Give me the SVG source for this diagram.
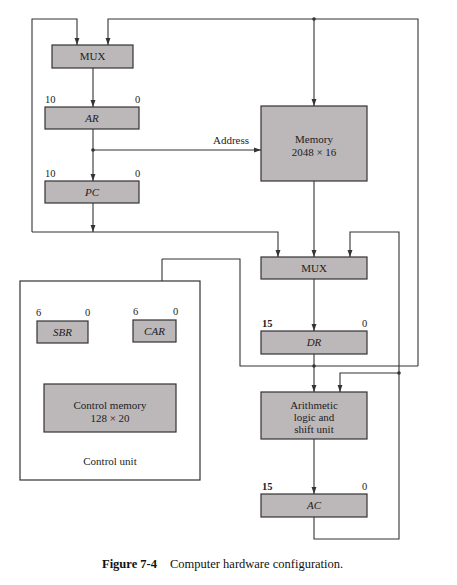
<svg xmlns="http://www.w3.org/2000/svg" width="457" height="585" viewBox="0 0 457 585">
<defs>
<marker id="ah" viewBox="0 0 10 10" refX="10" refY="5" markerWidth="7" markerHeight="7" markerUnits="userSpaceOnUse" orient="auto"><path d="M0,1.5 L10,5 L0,8.5 z" fill="#333"/></marker>
<style>
.box{fill:#bcb7b9;stroke:#333;stroke-width:1.2}
.cu{fill:#fff;stroke:#333;stroke-width:1.2}
.w{fill:none;stroke:#333;stroke-width:1.1}
.a{fill:none;stroke:#333;stroke-width:1.1;marker-end:url(#ah)}
.t{font-family:"Liberation Serif",serif;font-size:11px;fill:#222;text-anchor:middle}
.i{font-style:italic}
.n{font-family:"Liberation Serif",serif;font-size:10.5px;fill:#222}
.b{font-weight:bold}
.d{fill:#333}
.cap{font-family:"Liberation Serif",serif;font-size:12.5px;fill:#111}
</style>
</defs>
<rect width="457" height="585" fill="#fff"/>
<g id="connectors">
<polyline class="a" points="32,232 32,19 77,19 77,45"/>
<polyline class="a" points="418,366 418,19 108,19 108,45"/>
<line class="a" x1="314" y1="19" x2="314" y2="106"/>
<line class="a" x1="93" y1="68" x2="93" y2="107"/>
<line class="a" x1="93" y1="129" x2="93" y2="181"/>
<line class="a" x1="93" y1="150" x2="261" y2="150"/>
<line class="a" x1="93" y1="203" x2="93" y2="232"/>
<polyline class="a" points="32,232 278,232 278,257"/>
<line class="a" x1="314" y1="181" x2="314" y2="257"/>
<line class="a" x1="314" y1="279" x2="314" y2="331"/>
<line class="a" x1="314" y1="354" x2="314" y2="392"/>
<polyline class="w" points="418,366 240,366 240,259 162,259"/>
<polyline class="a" points="162,259 162,320"/>
<polyline class="a" points="314,517 314,539 399,539 399,232 350,232 350,257"/>
<polyline class="a" points="399,373 340,373 340,392"/>
<line class="a" x1="314" y1="439" x2="314" y2="494"/>
<circle class="d" cx="314" cy="19" r="1.8"/>
<circle class="d" cx="93" cy="150" r="1.8"/>
<circle class="d" cx="314" cy="366" r="1.8"/>
<circle class="d" cx="399" cy="373" r="1.8"/>
<text class="t" x="231" y="144">Address</text>
</g>
<g id="mux1"><rect class="box" x="52" y="45" width="81" height="23"/><text class="t" x="92.5" y="60">MUX</text></g>
<g id="ar"><rect class="box" x="45" y="107" width="94" height="22"/><text class="t i" x="92" y="122">AR</text><text class="n" x="45" y="103">10</text><text class="n" x="135" y="103">0</text></g>
<g id="pc"><rect class="box" x="45" y="181" width="94" height="22"/><text class="t i" x="92" y="196">PC</text><text class="n" x="45" y="177">10</text><text class="n" x="135" y="177">0</text></g>
<g id="memory"><rect class="box" x="261" y="106" width="106" height="75"/><text class="t" x="314" y="143">Memory</text><text class="t" x="314" y="156">2048 × 16</text></g>
<g id="mux2"><rect class="box" x="261" y="257" width="106" height="22"/><text class="t" x="314" y="272">MUX</text></g>
<g id="dr"><rect class="box" x="261" y="331" width="106" height="23"/><text class="t i" x="314" y="346">DR</text><text class="n b" x="262" y="327">15</text><text class="n" x="362" y="327">0</text></g>
<g id="alu"><rect class="box" x="261" y="392" width="106" height="47"/><text class="t" x="314" y="409">Arithmetic</text><text class="t" x="314" y="421">logic and</text><text class="t" x="314" y="433">shift unit</text></g>
<g id="ac"><rect class="box" x="261" y="494" width="106" height="23"/><text class="t i" x="314" y="509">AC</text><text class="n b" x="262" y="490">15</text><text class="n" x="362" y="490">0</text></g>
<g id="controlunit"><rect class="cu" x="20" y="281" width="180" height="199"/><text class="t" x="110" y="465">Control unit</text></g>
<g id="sbr"><rect class="box" x="37" y="321" width="51" height="22"/><text class="t i" x="62.5" y="336">SBR</text><text class="n" x="36" y="316">6</text><text class="n" x="85" y="316">0</text></g>
<g id="car"><rect class="box" x="133" y="320" width="43" height="22"/><text class="t i" x="154.5" y="335">CAR</text><text class="n" x="133" y="315">6</text><text class="n" x="173" y="315">0</text></g>
<g id="controlmemory"><rect class="box" x="44" y="384" width="132" height="48"/><text class="t" x="110" y="409">Control memory</text><text class="t" x="110" y="422">128 × 20</text></g>
<g id="caption"><text class="cap" x="102" y="568"><tspan font-weight="bold">Figure 7-4</tspan><tspan dx="13">Computer hardware configuration.</tspan></text></g>
</svg>
